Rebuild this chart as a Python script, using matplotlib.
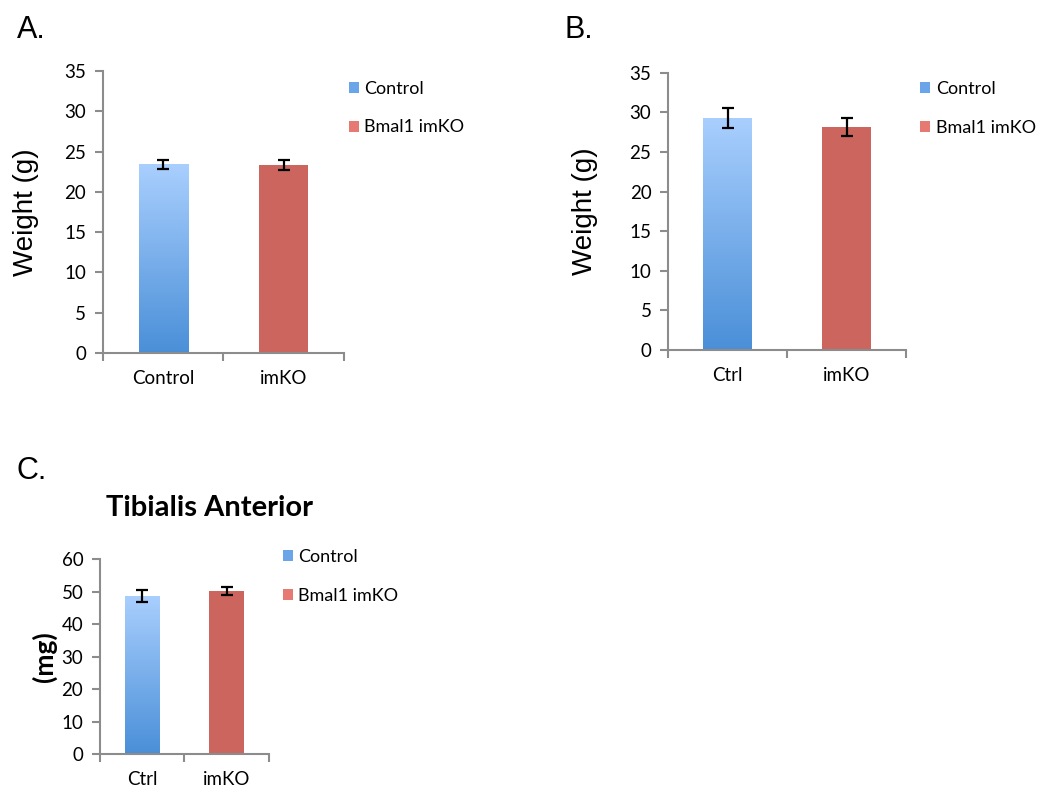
import numpy as np
import matplotlib
matplotlib.use("Agg")
import matplotlib.pyplot as plt
from matplotlib.colors import LinearSegmentedColormap
from matplotlib.patches import Patch

# body weight, panel A
groups_a = ["Control", "imKO"]
weight_a = [23.4, 23.3]
err_a = [0.5, 0.6]

# body weight, panel B
groups_b = ["Ctrl", "imKO"]
weight_b = [29.3, 28.15]
err_b = [1.25, 1.15]

# tibialis anterior mass, panel C
groups_c = ["Ctrl", "imKO"]
ta_mass = [48.6, 50.2]
err_c = [1.8, 1.2]

series = ["Control", "Bmal1 imKO"]

plt.rcParams["font.family"] = ["Lato", "DejaVu Sans"]

BLUE_GRAD = LinearSegmentedColormap.from_list("bluegrad", ["#4a8fd8", "#a9cffe"])
RED = "#cc655e"
AXIS_GRAY = "#8c8c8c"


def draw_panel(ax, labels, values, errs, ymax, ystep, legend_at):
    x = np.arange(len(labels))
    bars = ax.bar(x, values, width=0.41, color=[BLUE_GRAD(0.5), RED], zorder=2)
    # vertical gradient on the control bar
    b = bars[0]
    grad = np.linspace(1, 0, 256).reshape(-1, 1)
    im = ax.imshow(grad, cmap=BLUE_GRAD, aspect="auto", zorder=2.5,
                   extent=[b.get_x(), b.get_x() + b.get_width(), 0, b.get_height()])
    im.set_clip_path(b)
    ax.errorbar(x, values, yerr=errs, fmt="none", ecolor="black",
                elinewidth=1.6, capsize=4, capthick=1.6, zorder=3)

    ax.set_xlim(-0.5, len(labels) - 0.5)
    ax.set_ylim(0, ymax)
    ax.set_yticks(np.arange(0, ymax + 0.1, ystep))
    ax.set_xticks(x)
    ax.set_xticklabels(labels)
    ax.set_xticks(np.arange(-0.5, len(labels)), minor=True)
    ax.tick_params(axis="x", which="major", length=0, pad=12, labelsize=13.5)
    ax.tick_params(axis="x", which="minor", length=6, color=AXIS_GRAY, width=1.5)
    ax.tick_params(axis="y", length=6, color=AXIS_GRAY, width=1.5, pad=6, labelsize=13.5)
    for side in ("top", "right"):
        ax.spines[side].set_visible(False)
    for side in ("left", "bottom"):
        ax.spines[side].set_color(AXIS_GRAY)
        ax.spines[side].set_linewidth(1.5)

    handles = [Patch(facecolor="#6aa5ea"), Patch(facecolor="#e67a73")]
    ax.legend(handles, series, loc="upper left", bbox_to_anchor=legend_at,
              frameon=False, fontsize=13, handlelength=0.55, handleheight=0.55,
              handletextpad=0.3, labelspacing=1.25, borderpad=0, borderaxespad=0)


fig = plt.figure(figsize=(10.39, 7.91), dpi=100)

ax_a = fig.add_axes([0.0991, 0.5537, 0.232, 0.3565])
draw_panel(ax_a, groups_a, weight_a, err_a, 35, 5, (1.02, 0.965))
ax_a.set_ylabel("Weight (g)", fontsize=20, family="Liberation Sans")
ax_a.yaxis.set_label_coords(-0.265, 0.5)

ax_b = fig.add_axes([0.643, 0.5575, 0.229, 0.3507])
draw_panel(ax_b, groups_b, weight_b, err_b, 35, 5, (1.06, 0.97))
ax_b.set_ylabel("Weight (g)", fontsize=20, family="Liberation Sans")
ax_b.yaxis.set_label_coords(-0.295, 0.5)

ax_c = fig.add_axes([0.0962, 0.0464, 0.1627, 0.2469])
draw_panel(ax_c, groups_c, ta_mass, err_c, 60, 10, (1.083, 1.05))
ax_c.set_ylabel("(mg)", fontsize=19, fontweight="bold")
ax_c.yaxis.set_label_coords(-0.255, 0.5)

fig.text(0.2015, 0.358, "Tibialis Anterior", fontsize=21, fontweight="bold",
         ha="center", va="center")

for lbl, xp, yp in [("A.", 0.016, 0.962), ("B.", 0.543, 0.962), ("C.", 0.016, 0.405)]:
    fig.text(xp, yp, lbl, fontsize=22, family="Liberation Sans", ha="left", va="center")

fig.savefig("out.png", dpi=100)
